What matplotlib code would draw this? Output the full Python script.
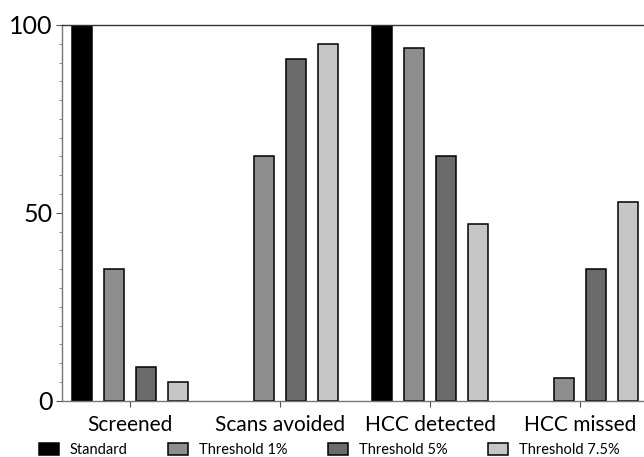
import matplotlib
matplotlib.use("Agg")
import matplotlib.pyplot as plt
import numpy as np
from matplotlib.ticker import MultipleLocator

categories = ["Screened", "Scans avoided", "HCC detected", "HCC missed"]
series = ["Standard", "Threshold 1%", "Threshold 5%", "Threshold 7.5%"]
standard = [100, 0, 100, 0]
thresh_1 = [35, 65, 94, 6]
thresh_5 = [9, 91, 65, 35]
thresh_75 = [5, 95, 47, 53]
values = [standard, thresh_1, thresh_5, thresh_75]

colors = ["#000000", "#8e8e8e", "#6b6b6b", "#c6c6c6"]
offsets = [-0.32, -0.1067, 0.1067, 0.32]
width = 0.138

plt.rcParams["font.family"] = ["Lato", "DejaVu Sans"]

fig = plt.figure(figsize=(6.44, 4.57), dpi=100)
ax = fig.add_axes([0.0958, 0.1232, 0.9109, 0.8221])

x = np.arange(len(categories))
for vals, col, off, name in zip(values, colors, offsets, series):
    bars = ax.bar(x + off, vals, width, color=col, edgecolor="black",
                  linewidth=1.1, label=name, zorder=2)
    # zero-height bars leave no trace in the original
    for b, v in zip(bars, vals):
        if v == 0:
            b.set_visible(False)

ax.set_xlim(-0.455, 3.455)
ax.set_ylim(0, 100)
ax.set_yticks([0, 50, 100])
ax.yaxis.set_minor_locator(MultipleLocator(5))
ax.set_xticks(x)
ax.set_xticklabels(categories, fontsize=15)
ax.tick_params(axis="y", labelsize=18, length=4, width=0.8, color="#555555", pad=2.5)
ax.tick_params(axis="y", which="minor", length=2.5, width=0.6, color="#777777")
ax.tick_params(axis="x", length=4, width=0.8, color="#555555", pad=6)

ax.spines["left"].set_color("#777777")
ax.spines["bottom"].set_color("#777777")
ax.spines["top"].set_color("#333333")
ax.spines["right"].set_visible(False)
for s in ("left", "bottom", "top"):
    ax.spines[s].set_linewidth(1.0)

leg = fig.legend(loc="lower left", bbox_to_anchor=(0.044, -0.022), ncol=4,
                 frameon=False, fontsize=10.5, handlelength=1.4,
                 handleheight=0.95, handletextpad=0.75, columnspacing=2.75,
                 borderpad=0.2)

fig.savefig("out.png", dpi=100)
